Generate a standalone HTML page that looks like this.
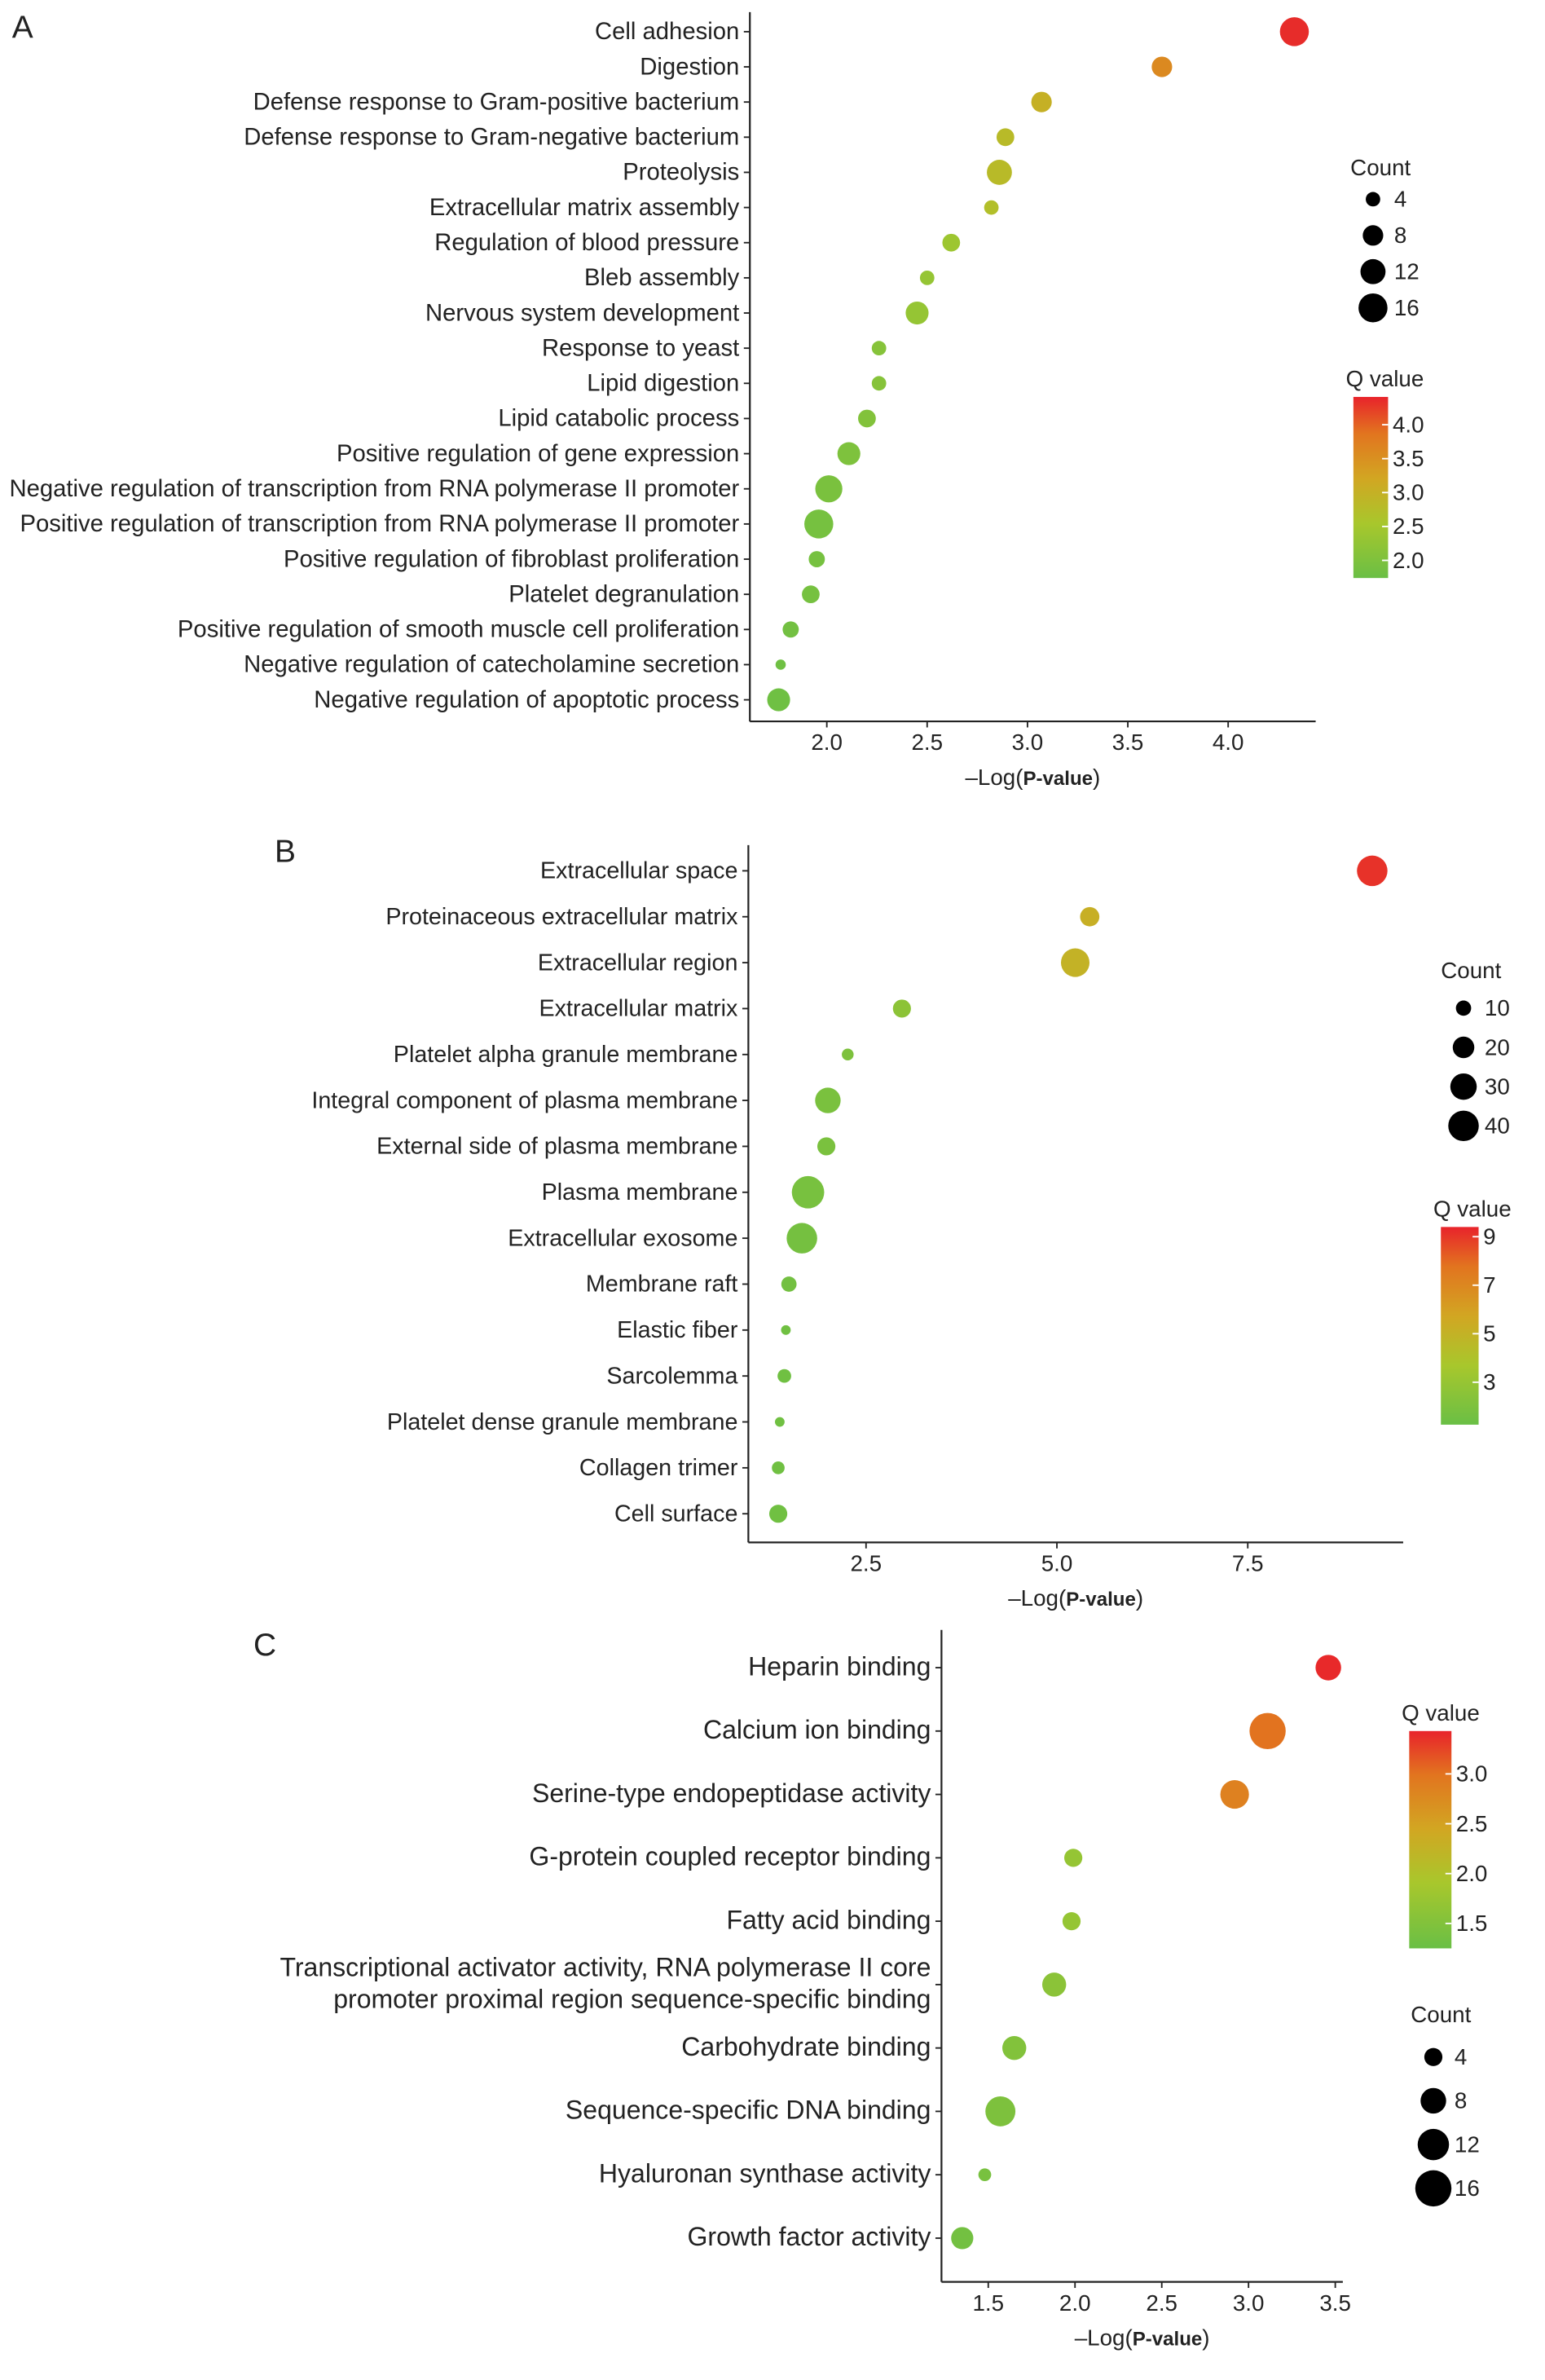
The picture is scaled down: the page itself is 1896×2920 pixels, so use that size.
<!DOCTYPE html>
<html><head><meta charset="utf-8"><style>
html,body{margin:0;padding:0;background:#fff}
svg{display:block}
text{font-family:"Liberation Sans",Arial,sans-serif;fill:#222}
</style></head><body>
<svg id="chart" width="1896" height="2920" viewBox="0 0 1024 1577" preserveAspectRatio="none" xmlns="http://www.w3.org/2000/svg">
<defs>
<linearGradient id="qgrad" x1="0" y1="1" x2="0" y2="0">
<stop offset="0" stop-color="#6abf45"/><stop offset="0.3" stop-color="#a8c72c"/><stop offset="0.55" stop-color="#d2a622"/><stop offset="0.8" stop-color="#e2741f"/><stop offset="1" stop-color="#e8232b"/>
</linearGradient>
</defs>
</svg>
<script>
// Panel A data
const catsA=["Cell adhesion","Digestion","Defense response to Gram-positive bacterium","Defense response to Gram-negative bacterium","Proteolysis","Extracellular matrix assembly","Regulation of blood pressure","Bleb assembly","Nervous system development","Response to yeast","Lipid digestion","Lipid catabolic process","Positive regulation of gene expression","Negative regulation of transcription from RNA polymerase II promoter","Positive regulation of transcription from RNA polymerase II promoter","Positive regulation of fibroblast proliferation","Platelet degranulation","Positive regulation of smooth muscle cell proliferation","Negative regulation of catecholamine secretion","Negative regulation of apoptotic process"];
const logpA=[4.33,3.67,3.07,2.89,2.86,2.82,2.62,2.50,2.45,2.26,2.26,2.20,2.11,2.01,1.96,1.95,1.92,1.82,1.77,1.76];
const countA=[16,8,8,6,12,4,6,4,10,4,4,6,10,14,16,5,6,5,2,10];
const qA=[4.35,3.6,3.0,2.8,2.8,2.7,2.4,2.3,2.3,2.1,2.1,2.05,2.0,1.95,1.9,1.9,1.9,1.85,1.8,1.8];
const ticksA=[2.0,2.5,3.0,3.5,4.0];
const countTicksA=[4,8,12,16];
const qTicksA=[4.0,3.5,3.0,2.5,2.0];
// Panel B data
const catsB=["Extracellular space","Proteinaceous extracellular matrix","Extracellular region","Extracellular matrix","Platelet alpha granule membrane","Integral component of plasma membrane","External side of plasma membrane","Plasma membrane","Extracellular exosome","Membrane raft","Elastic fiber","Sarcolemma","Platelet dense granule membrane","Collagen trimer","Cell surface"];
const logpB=[9.13,5.43,5.24,2.97,2.26,2.0,1.98,1.74,1.66,1.49,1.45,1.43,1.37,1.35,1.35];
const countB=[40,16,35,14,6,28,14,45,40,10,4,8,4,7,14];
const qB=[9.1,5.2,5.0,2.6,2.0,1.9,1.9,1.8,1.7,1.6,1.5,1.5,1.5,1.5,1.5];
const ticksB=[2.5,5.0,7.5];
const countTicksB=[10,20,30,40];
const qTicksB=[9,7,5,3];
// Panel C data
const catsC=["Heparin binding","Calcium ion binding","Serine-type endopeptidase activity","G-protein coupled receptor binding","Fatty acid binding",["Transcriptional activator activity, RNA polymerase II core","promoter proximal region sequence-specific binding"],"Carbohydrate binding","Sequence-specific DNA binding","Hyaluronan synthase activity","Growth factor activity"];
const logpC=[3.46,3.11,2.92,1.99,1.98,1.88,1.65,1.57,1.48,1.35];
const countC=[8,16,10,4,4,7,7,11,2,6];
const qC=[3.4,3.0,2.85,1.7,1.7,1.6,1.5,1.45,1.4,1.35];
const ticksC=[1.5,2.0,2.5,3.0,3.5];
const countTicksC=[4,8,12,16];
const qTicksC=[3.0,2.5,2.0,1.5];

const svg=document.getElementById('chart');
const NS='http://www.w3.org/2000/svg';
function mk(tag,attrs,parent,txt){const e=document.createElementNS(NS,tag);for(const k in attrs)e.setAttribute(k,attrs[k]);if(txt!==undefined)e.textContent=txt;(parent||svg).appendChild(e);return e;}
const stops=[[0,[106,191,69]],[0.3,[168,199,44]],[0.55,[210,166,34]],[0.8,[226,116,31]],[1,[232,35,43]]];
function qcolor(t){t=Math.max(0,Math.min(1,t));for(let i=1;i<stops.length;i++){if(t<=stops[i][0]){const a=stops[i-1],b=stops[i];const f=(t-a[0])/(b[0]-a[0]);const c=a[1].map((v,j)=>Math.round(v+(b[1][j]-v)*f));return `rgb(${c})`;}}return 'rgb(232,35,43)';}

function panel(cfg){
  const g=mk('g',{});
  
  
  const xs=v=>cfg.x0+(v-cfg.v0)*cfg.ppu;
  const ys=i=>cfg.yFirst+i*cfg.ystep;
  const qy=q=>cfg.cbBottom-(q-cfg.qmin)*(cfg.cbBottom-cfg.cbTop)/(cfg.qmax-cfg.qmin);
  const pl=mk('text',{x:cfg.labelX,y:cfg.labelY,'font-size':21},g,cfg.letter);
  
  const ax=mk('line',{x1:cfg.ax,y1:cfg.axTop,x2:cfg.ax,y2:cfg.axBot,stroke:'#222','stroke-width':1.2},g);
  
  const xa=mk('line',{x1:cfg.ax,y1:cfg.axBot,x2:cfg.axRight,y2:cfg.axBot,stroke:'#222','stroke-width':1.2},g);
  
  cfg.ticks.forEach(t=>{
    const x=xs(t);
    mk('line',{x1:x,y1:cfg.axBot,x2:x,y2:cfg.axBot+4,stroke:'#222'},g);
    const tl=mk('text',{x:x,y:cfg.axBot+19,'font-size':15,'text-anchor':'middle'},g,t.toFixed(1));
    
  });
  const xt=mk('text',{x:(cfg.ax+cfg.axRight)/2,y:cfg.axBot+42,'font-size':15,'text-anchor':'middle'},g);
  
  mk('tspan',{},xt,'–Log(');mk('tspan',{'font-weight':'bold','font-size':13},xt,'P-value');mk('tspan',{},xt,')');
  cfg.cats.forEach((c,i)=>{
    const y=ys(i);
    mk('line',{x1:cfg.ax-4,y1:y,x2:cfg.ax,y2:y,stroke:'#222'},g);
    const lines=Array.isArray(c)?c:[c];
    lines.forEach((ln,k)=>{
      const t=mk('text',{x:cfg.ax-7,y:y+5+(k-(lines.length-1)/2)*21,'font-size':cfg.fs,'text-anchor':'end'},g,ln);
      
    });
    const d=mk('circle',{cx:xs(cfg.logp[i]),cy:y,r:cfg.k*Math.sqrt(cfg.count[i]),fill:qcolor((cfg.q[i]-cfg.qmin)/(cfg.qmax-cfg.qmin))},g);
    
  });
  const ct=mk('text',{x:cfg.cntX-15,y:cfg.cntTitleY,'font-size':15},g,'Count');
  
  cfg.countTicks.forEach((c,i)=>{
    const y=cfg.cntY0+i*cfg.cntStep;
    const lc=mk('circle',{cx:cfg.cntX,cy:y,r:cfg.k*Math.sqrt(c),fill:'#000'},g);
    
    mk('text',{x:cfg.cntX+14,y:y+5,'font-size':15},g,String(c));
  });
  const qt=mk('text',{x:cfg.cbX-5,y:cfg.cbTitleY,'font-size':15},g,'Q value');
  
  const cb=mk('rect',{x:cfg.cbX,y:cfg.cbTop,width:cfg.cbW,height:cfg.cbBottom-cfg.cbTop,fill:'url(#qgrad)'},g);
  
  cfg.qTicks.forEach(q=>{
    const y=qy(q);
    mk('line',{x1:cfg.cbX+cfg.cbW-4,y1:y,x2:cfg.cbX+cfg.cbW,y2:y,stroke:'#fff'},g);
    mk('text',{x:cfg.cbX+cfg.cbW+3,y:y+5,'font-size':15},g,cfg.qfmt(q));
  });
}
panel({name:'panel-a-biological-process',letter:'A',labelX:8,labelY:25,cats:catsA,logp:logpA,count:countA,q:qA,ticks:ticksA,countTicks:countTicksA,qTicks:qTicksA,
 x0:548,v0:2,ppu:133,yFirst:21,ystep:23.3,ax:497,axTop:8,axBot:478,axRight:872,fs:15.8,k:2.4,
 cntX:910,cntTitleY:116,cntY0:132,cntStep:24,cbX:897,cbW:23,cbTop:263,cbBottom:383,cbTitleY:256,qmin:1.74,qmax:4.41,qfmt:v=>v.toFixed(1)});
panel({name:'panel-b-cellular-component',letter:'B',labelX:182,labelY:571,cats:catsB,logp:logpB,count:countB,q:qB,ticks:ticksB,countTicks:countTicksB,qTicks:qTicksB,
 x0:574,v0:2.5,ppu:50.6,yFirst:577,ystep:30.43,ax:496,axTop:560,axBot:1022,axRight:930,fs:15.5,k:1.6,
 cntX:970,cntTitleY:648,cntY0:668,cntStep:26,cbX:955,cbW:25,cbTop:813,cbBottom:944,cbTitleY:806,qmin:1.25,qmax:9.4,qfmt:v=>String(v)});
panel({name:'panel-c-molecular-function',letter:'C',labelX:168,labelY:1097,cats:catsC,logp:logpC,count:countC,q:qC,ticks:ticksC,countTicks:countTicksC,qTicks:qTicksC,
 x0:655,v0:1.5,ppu:115,yFirst:1105,ystep:42,ax:624,axTop:1080,axBot:1512,axRight:890,fs:17.3,k:3,
 cntX:950,cntTitleY:1340,cntY0:1363,cntStep:29,cbX:934,cbW:28,cbTop:1147,cbBottom:1291,cbTitleY:1140,qmin:1.25,qmax:3.43,qfmt:v=>v.toFixed(1)});
</script>
</body></html>
